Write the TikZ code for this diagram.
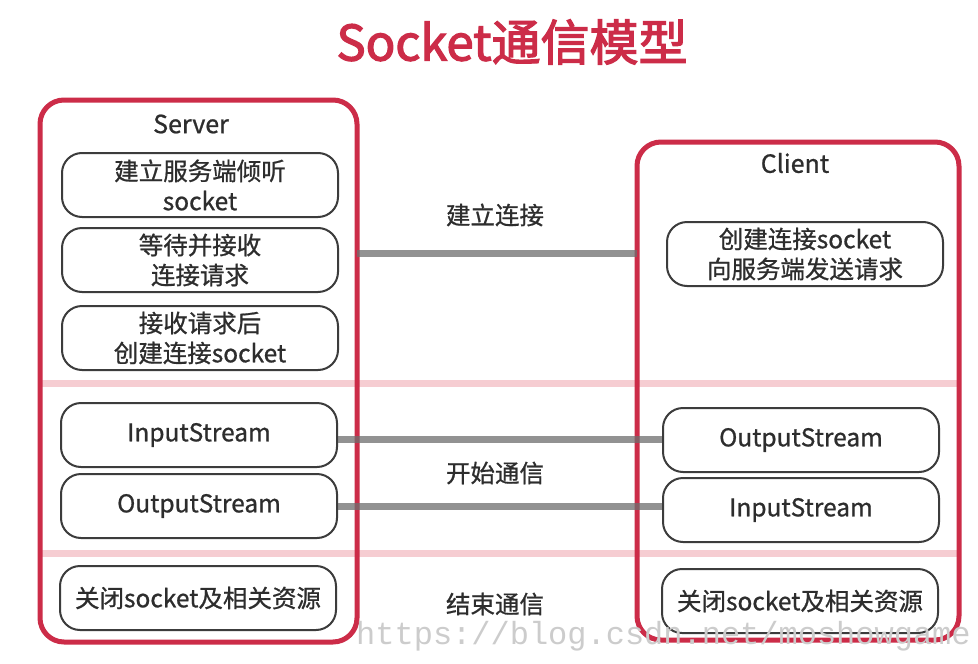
\documentclass[tikz,border=0pt]{standalone}
\usepackage{fontspec}
\setmainfont{Noto Sans CJK SC}
\newfontfamily\medfont[FakeBold=0.8]{Noto Sans CJK SC}
\newfontfamily\titlefont[FakeBold=2.5]{Noto Sans CJK SC}
\newfontfamily\wmfont{Liberation Mono}
\definecolor{sred}{RGB}{204,44,72}
\definecolor{bandc}{RGB}{246,205,210}
\definecolor{connc}{RGB}{110,110,110}
\definecolor{txtc}{RGB}{45,45,45}
\definecolor{boxc}{RGB}{60,60,60}
\begin{document}
\begin{tikzpicture}[x=1pt,y=-1pt,
  outer/.style={draw=sred,line width=5pt,rounded corners=24pt},
  band/.style={fill=bandc},
  inner/.style={draw=boxc,line width=2pt,fill=white,rounded corners=20pt,
    minimum width=276pt,minimum height=64pt,align=center,text=txtc,
    font=\medfont\fontsize{24.5}{30}\selectfont,inner sep=0pt},
  lbl/.style={text=txtc,font=\medfont\fontsize{24.5}{28}\selectfont,inner sep=0pt},
  head/.style={text=txtc,font=\medfont\fontsize{25}{28}\selectfont,inner sep=0pt},
  conn/.style={draw=connc,line width=7pt,opacity=0.75}]
\useasboundingbox (0,0) rectangle (978,664);
\fill[white] (0,0) rectangle (978,664);
% title
\node[text=sred,font=\titlefont\fontsize{49}{52}\selectfont,inner sep=0pt] (title) at (512,42) {Socket通信模型};
% bands
\fill[band] (40,380) rectangle (959,387);
\fill[band] (40,550) rectangle (959,557);
% outer boxes
\draw[outer] (40,100) rectangle (357,642);
\draw[outer] (637,142) rectangle (959,640);
\coordinate (srvR) at (357,253);
\coordinate (cliL) at (637,253);
\node[head] (server) at (191,124) {Server};
\node[head] (client) at (795,163) {Client};
% server nodes
\node[inner] (s1) at (200,185) {建立服务端倾听\\socket};
\node[inner] (s2) at (200,260) {等待并接收\\连接请求};
\node[inner] (s3) at (200,338) {接收请求后\\创建连接socket};
\node[inner] (s4) at (199,435) {InputStream};
\node[inner] (s5) at (199,506) {OutputStream};
\node[inner] (s6) at (198,598) {关闭socket及相关资源};
% client nodes
\node[inner] (c1) at (805,254) {创建连接socket\\向服务端发送请求};
\node[inner] (c2) at (801,440) {OutputStream};
\node[inner] (c3) at (801,510) {InputStream};
\node[inner] (c4) at (800,601) {关闭socket及相关资源};
% connectors
\draw[conn] (srvR) -- (cliL);
\draw[conn] (s4.east |- 0,439) -- (c2.west |- 0,439);
\draw[conn] (s5.east |- 0,506) -- (c3.west |- 0,506);
% labels
\node[lbl] (l1) at (495,215) {建立连接};
\node[lbl] (l2) at (495,473) {开始通信};
\node[lbl] (l3) at (495,604) {结束通信};
% watermark
\node[text=black!20,font=\wmfont\fontsize{32}{34}\selectfont,anchor=west,inner sep=0pt] (wm) at (356,636) {https://blog.csdn.net/moshowgame};
\end{tikzpicture}
\end{document}
